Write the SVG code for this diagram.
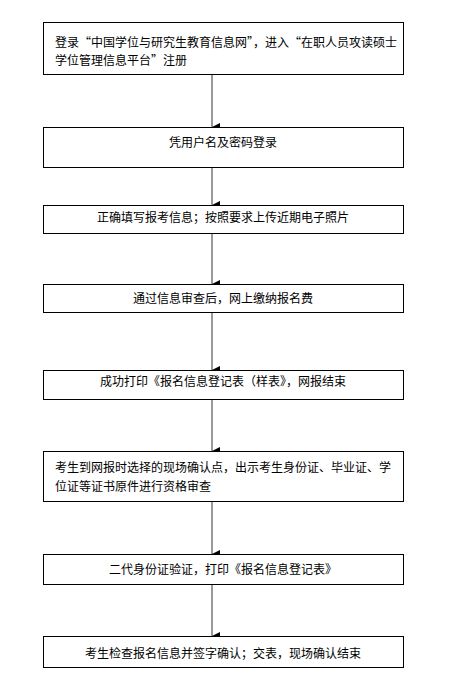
<svg xmlns="http://www.w3.org/2000/svg" width="453" height="687" viewBox="0 0 453 687">
<defs>
<marker id="arr" markerWidth="8" markerHeight="8" refX="4" refY="8" orient="auto" markerUnits="userSpaceOnUse" viewBox="0 0 8 8">
<path d="M0,0 L8,0 L4,8 Z" fill="#000"/>
</marker>
<style>
.box{fill:#fff;stroke:#000;stroke-width:1}
.t{font-family:"Noto Sans CJK SC","Noto Sans CJK TC",sans-serif;font-size:12px;fill:#000}
.c{text-anchor:middle}
.ln{stroke:#777;stroke-width:1.5;fill:none}
</style>
</defs>
<rect width="453" height="687" fill="#fff"/>
<g id="connectors">
<line class="ln" x1="212" y1="75" x2="212" y2="127" marker-end="url(#arr)"/>
<line class="ln" x1="212" y1="168" x2="212" y2="205" marker-end="url(#arr)"/>
<line class="ln" x1="212" y1="233" x2="212" y2="284" marker-end="url(#arr)"/>
<line class="ln" x1="212" y1="313" x2="212" y2="370" marker-end="url(#arr)"/>
<line class="ln" x1="212" y1="400" x2="212" y2="451" marker-end="url(#arr)"/>
<line class="ln" x1="212" y1="502" x2="212" y2="554" marker-end="url(#arr)"/>
<line class="ln" x1="212" y1="585" x2="212" y2="636" marker-end="url(#arr)"/>
</g>
<g id="n1">
<rect class="box" x="43.5" y="22.5" width="360" height="52"/>
<text class="t" x="55" y="46.5">登录“中国学位与研究生教育信息网”，进入“在职人员攻读硕士</text>
<text class="t" x="55" y="65">学位管理信息平台”注册</text>
</g>
<g id="n2">
<rect class="box" x="43.5" y="127.5" width="360" height="40"/>
<text class="t c" x="223" y="147">凭用户名及密码登录</text>
</g>
<g id="n3">
<rect class="box" x="43.5" y="205.5" width="360" height="28"/>
<text class="t c" x="223" y="221.5">正确填写报考信息；按照要求上传近期电子照片</text>
</g>
<g id="n4">
<rect class="box" x="43.5" y="284.5" width="360" height="28"/>
<text class="t c" x="223" y="302.5">通过信息审查后，网上缴纳报名费</text>
</g>
<g id="n5">
<rect class="box" x="43.5" y="370.5" width="360" height="29"/>
<text class="t c" x="223" y="386">成功打印《报名信息登记表（样表》，网报结束</text>
</g>
<g id="n6">
<rect class="box" x="43.5" y="451.5" width="360" height="50"/>
<text class="t" x="55" y="472">考生到网报时选择的现场确认点，出示考生身份证、毕业证、学</text>
<text class="t" x="55" y="491">位证等证书原件进行资格审查</text>
</g>
<g id="n7">
<rect class="box" x="43.5" y="554.5" width="360" height="30"/>
<text class="t c" x="223" y="573.5">二代身份证验证，打印《报名信息登记表》</text>
</g>
<g id="n8">
<rect class="box" x="43.5" y="636.5" width="360" height="31"/>
<text class="t c" x="223" y="657.5">考生检查报名信息并签字确认；交表，现场确认结束</text>
</g>
</svg>
